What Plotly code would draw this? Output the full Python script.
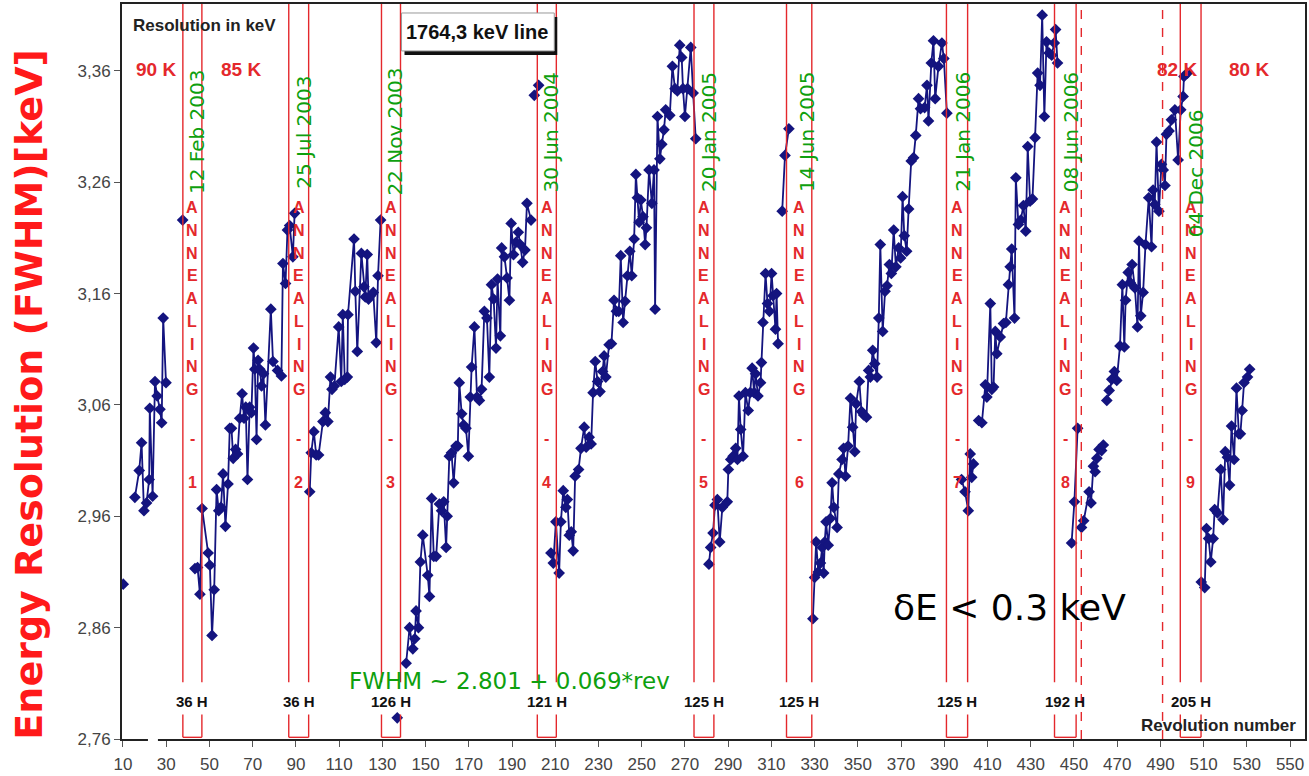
import plotly.graph_objects as go

# ---------------- data (revolution number, FWHM in keV) ----------------
seg_a1_rev = [10.1]
seg_a1_fwhm = [2.899]
seg_a2_rev = [15.5, 17.5, 18.6, 19.7, 20.9, 22.1, 22.4, 23.7, 24.8, 25.8, 27.1, 27.9, 28.6, 29.9]
seg_a2_fwhm = [2.977, 3.001, 3.026, 2.965, 2.972, 2.993, 3.057, 2.978, 3.081, 3.068, 3.056, 3.044, 3.138, 3.080]
seg_a3_rev = [37.6]
seg_a3_fwhm = [3.226]
seg_b_rev = [43.3, 44.5, 45.6, 46.6, 49.4, 50.2, 51.2, 52.2, 53.3, 54.3, 55.3, 56.3, 57.4, 58.6, 59.4,
             60.2, 61.0, 62.1, 63.0, 64.0, 65.1, 66.0, 66.8, 67.6, 68.6, 69.4, 70.4, 71.0, 71.8, 72.5,
             73.3, 74.1, 75.0, 75.9, 78.4, 79.4, 81.5, 83.3, 84.0, 85.2, 86.1, 87.1, 88.6, 89.4]
seg_b_fwhm = [2.913, 2.914, 2.890, 2.967, 2.927, 2.916, 2.853, 2.894, 2.984, 2.965, 2.968, 2.998, 2.951, 2.989, 3.039,
              3.039, 3.012, 3.020, 3.016, 3.048, 3.070, 3.048, 3.058, 2.993, 3.058, 3.053, 3.111, 3.092, 3.029, 3.100,
              3.092, 3.077, 3.088, 3.042, 3.146, 3.099, 3.091, 3.086, 3.187, 3.169, 3.217, 3.221, 3.193, 3.232]
seg_c_rev = [96.4, 97.1, 98.3, 99.4, 100.5, 102.5, 103.6, 104.8, 106.0, 106.7, 107.8, 109.8, 111.0, 111.7, 112.6,
             113.8, 114.1, 116.9, 117.5, 118.4, 120.3, 121.5, 122.1, 123.0, 123.6, 124.5, 125.8, 127.2, 128.0, 129.2]
seg_c_fwhm = [2.982, 3.017, 3.036, 3.015, 3.015, 3.045, 3.053, 3.045, 3.085, 3.074, 3.077, 3.130, 3.081, 3.141, 3.083,
              3.085, 3.141, 3.209, 3.162, 3.108, 3.196, 3.166, 3.157, 3.195, 3.155, 3.158, 3.161, 3.116, 3.176, 3.226]
seg_d0_rev = [136.9]
seg_d0_fwhm = [2.779]
seg_d_rev = [141.0, 142.6, 144.1, 145.0, 145.6, 146.7, 147.6, 148.7, 151.0, 151.8, 152.8, 153.8, 154.9, 156.4, 157.4,
             158.4, 159.5, 160.0, 161.0, 162.0, 163.0, 164.1, 164.9, 165.6, 166.7, 167.6, 168.7, 169.8, 170.7, 171.3,
             172.6, 173.8, 174.9, 175.9, 177.2, 178.4, 179.5, 180.5, 181.5, 182.6, 183.3, 184.6, 185.2, 186.5, 187.7,
             188.8, 189.6, 190.7, 191.8, 192.9, 193.8, 194.9, 196.0, 196.9, 198.8]
seg_d_fwhm = [2.828, 2.860, 2.841, 2.850, 2.875, 2.860, 2.919, 2.943, 2.907, 2.888, 2.976, 2.924, 2.924, 2.971, 2.965,
              2.973, 2.932, 2.960, 3.014, 3.017, 2.990, 3.023, 3.023, 3.080, 3.052, 3.042, 3.039, 3.014, 3.067, 3.094,
              3.130, 3.067, 3.064, 3.074, 3.144, 3.138, 3.085, 3.168, 3.155, 3.111, 3.173, 3.122, 3.201, 3.193, 3.174,
              3.154, 3.223, 3.195, 3.206, 3.215, 3.204, 3.188, 3.199, 3.241, 3.226]
seg_e0_rev = [200.3, 202.3]
seg_e0_fwhm = [3.338, 3.347]
seg_e_rev = [208.0, 209.1, 210.3, 211.8, 212.6, 213.7, 214.9, 215.6, 216.5, 217.4, 218.3, 219.2, 220.8, 221.9, 223.4,
             224.3, 225.7, 226.6, 227.5, 228.5, 229.6, 230.7, 231.9, 232.6, 233.4, 234.9, 236.0, 237.2, 238.3, 239.4,
             240.3, 241.4, 242.3, 243.4, 244.5, 245.4, 246.5, 247.3, 248.0, 248.8, 249.6, 250.6, 251.6, 252.2, 253.4,
             254.7, 255.7, 256.2, 257.3, 258.4, 259.3, 260.3, 261.1, 263.0, 264.2, 265.4, 266.5, 267.6, 268.5, 269.1,
             270.0, 271.2, 272.7, 273.8, 275.0]
seg_e_fwhm = [2.927, 2.918, 2.955, 2.909, 2.955, 2.983, 2.968, 2.975, 2.943, 2.946, 2.929, 2.996, 3.002, 3.021, 3.040,
              3.022, 3.031, 3.025, 3.071, 3.099, 3.081, 3.072, 3.090, 3.104, 3.085, 3.114, 3.115, 3.154, 3.144, 3.144,
              3.194, 3.134, 3.153, 3.176, 3.198, 3.176, 3.209, 3.267, 3.246, 3.224, 3.244, 3.229, 3.204, 3.219, 3.271,
              3.241, 3.271, 3.146, 3.319, 3.281, 3.294, 3.307, 3.325, 3.320, 3.364, 3.344, 3.342, 3.383, 3.372, 3.344,
              3.319, 3.344, 3.381, 3.340, 3.299]
seg_f_rev = [281.1, 281.9, 283.0, 283.9, 285.0, 286.1, 287.3, 289.6, 290.1, 291.2, 292.3, 293.5, 294.3, 295.0, 295.8,
             296.9, 298.0, 299.3, 300.2, 301.1, 302.0, 302.7, 303.8, 305.0, 305.4, 306.1, 307.3, 308.2, 309.1, 310.1,
             310.7, 311.9, 312.4, 313.1]
seg_f_fwhm = [2.917, 2.932, 2.945, 2.970, 2.975, 2.937, 2.968, 2.973, 3.002, 3.011, 3.014, 3.021, 3.011, 3.068, 3.038,
              3.014, 3.071, 3.055, 3.071, 3.093, 3.071, 3.088, 3.068, 3.080, 3.098, 3.134, 3.178, 3.151, 3.144, 3.178,
              3.158, 3.128, 3.160, 3.115]
seg_f2_rev = [315.0, 316.3, 318.1]
seg_f2_fwhm = [3.234, 3.284, 3.308]
seg_g_rev = [329.2, 330.0, 330.7, 331.7, 332.7, 333.5, 334.2, 334.7, 335.3, 336.3, 337.3, 338.1, 338.9, 340.4, 341.2,
             342.7, 343.4, 344.3, 345.5, 346.6, 347.6, 348.6, 349.2, 350.7, 351.7, 352.7, 354.0, 355.0, 355.8, 356.9,
             357.8, 358.9, 359.7, 360.4, 361.5, 362.6, 363.5, 364.6, 365.5, 366.6, 367.6, 368.9, 369.8, 370.7, 371.5,
             372.6, 373.5, 374.7, 375.8, 376.8, 378.1, 379.0, 380.9, 382.0, 382.7, 384.0, 385.0, 385.8, 387.3, 388.9,
             389.8, 391.2]
seg_g_fwhm = [2.868, 2.905, 2.937, 2.910, 2.918, 2.932, 2.909, 2.937, 2.955, 2.934, 2.958, 2.990, 2.968, 2.950, 2.998,
              3.011, 3.021, 2.996, 3.023, 3.066, 3.040, 3.018, 3.061, 3.081, 3.054, 3.051, 3.049, 3.091, 3.085, 3.109,
              3.097, 3.085, 3.138, 3.204, 3.126, 3.162, 3.167, 3.186, 3.178, 3.217, 3.184, 3.201, 3.192, 3.247, 3.212,
              3.198, 3.236, 3.279, 3.282, 3.302, 3.335, 3.326, 3.327, 3.347, 3.315, 3.367, 3.387, 3.335, 3.364, 3.385,
              3.371, 3.322]
seg_h0_rev = [398.0, 399.6, 401.1, 402.0, 402.7, 403.5]
seg_h0_fwhm = [2.993, 2.982, 2.965, 3.016, 2.995, 3.007]
seg_h_rev = [405.9, 407.4, 409.0, 409.7, 411.3, 412.0, 412.8, 413.6, 414.3, 415.9, 417.4, 418.5, 419.7, 420.5, 421.2,
             422.5, 423.1, 424.3, 425.4, 426.6, 427.7, 428.6, 429.7, 430.8, 432.0, 433.2, 434.3, 435.3, 436.3, 437.3,
             438.5, 439.7, 440.9, 441.5, 442.4]
seg_h_fwhm = [3.046, 3.044, 3.078, 3.067, 3.151, 3.074, 3.076, 3.126, 3.106, 3.121, 3.133, 3.134, 3.168, 3.184, 3.200,
              3.138, 3.264, 3.222, 3.226, 3.239, 3.216, 3.292, 3.243, 3.245, 3.300, 3.358, 3.347, 3.410, 3.319, 3.386,
              3.376, 3.374, 3.385, 3.397, 3.367]
seg_i0_rev = [448.9, 450.2, 451.7]
seg_i0_fwhm = [2.936, 2.973, 3.039]
seg_i_rev = [453.5, 454.5, 457.0, 457.9, 459.0, 459.8, 460.6, 461.6, 462.8, 463.6]
seg_i_fwhm = [2.950, 2.956, 2.982, 2.972, 3.005, 3.000, 3.012, 3.020, 3.019, 3.024]
seg_j_rev = [465.2, 466.3, 467.5, 468.7, 469.8, 471.3, 472.4, 473.3, 473.9, 475.1, 476.0, 476.9, 478.2, 479.4, 480.1,
             480.9, 482.0, 483.1, 484.6, 485.9, 486.6, 487.4, 488.2, 489.3, 490.5, 491.3, 492.1, 492.8, 494.0, 495.1,
             496.7, 498.2, 499.4, 500.5, 500.9, 502.5]
seg_j_fwhm = [3.064, 3.073, 3.083, 3.090, 3.082, 3.113, 3.168, 3.112, 3.154, 3.179, 3.170, 3.186, 3.165, 3.130, 3.207,
              3.140, 3.161, 3.204, 3.246, 3.202, 3.253, 3.240, 3.296, 3.234, 3.276, 3.271, 3.257, 3.303, 3.306, 3.316,
              3.325, 3.280, 3.325, 3.337, 3.355, 3.358]
seg_k_rev = [508.9, 510.5, 511.3, 512.3, 513.3, 514.4, 515.1, 516.4, 517.9, 519.0, 520.0, 521.0, 522.0, 522.9, 524.1,
             525.2, 526.3, 527.0, 527.8, 528.7, 530.3, 531.3]
seg_k_fwhm = [2.901, 2.896, 2.949, 2.940, 2.919, 2.940, 2.966, 2.963, 3.002, 2.957, 3.018, 3.013, 2.988, 3.041, 3.011,
              3.075, 3.034, 3.034, 3.055, 3.080, 3.085, 3.092]

segments = [
    (seg_a1_rev, seg_a1_fwhm), (seg_a2_rev, seg_a2_fwhm), (seg_a3_rev, seg_a3_fwhm),
    (seg_b_rev, seg_b_fwhm), (seg_c_rev, seg_c_fwhm), (seg_d0_rev, seg_d0_fwhm),
    (seg_d_rev, seg_d_fwhm), (seg_e0_rev, seg_e0_fwhm), (seg_e_rev, seg_e_fwhm),
    (seg_f_rev, seg_f_fwhm), (seg_f2_rev, seg_f2_fwhm), (seg_g_rev, seg_g_fwhm),
    (seg_h0_rev, seg_h0_fwhm), (seg_h_rev, seg_h_fwhm), (seg_i0_rev, seg_i0_fwhm),
    (seg_i_rev, seg_i_fwhm), (seg_j_rev, seg_j_fwhm), (seg_k_rev, seg_k_fwhm),
]

# annealing periods (start, end revolution), durations and dates
anneal_start = [37.7, 86.7, 129.6, 201.7, 274.2, 317.0, 391.0, 441.0, 499.2]
anneal_end = [46.5, 95.9, 138.4, 210.5, 283.4, 328.7, 400.8, 451.0, 508.8]
anneal_hours = ["36 H", "36 H", "126 H", "121 H", "125 H", "125 H", "125 H", "192 H", "205 H"]
anneal_dates = ["12 Feb 2003", "25 Jul 2003", "22 Nov 2003", "30 Jun 2004", "20 Jan 2005",
                "14 Jun 2005", "21 Jan 2006", "08 Jun 2006", "04 Dec 2006"]
dashed_revs = [453.4, 491.0]
temp_labels = ["90 K", "85 K", "82 K", "80 K"]
temp_revs = [25.2, 64.5, 497.8, 531.1]

y_tickvals = [2.76, 2.86, 2.96, 3.06, 3.16, 3.26, 3.36]
y_ticktext = ["2,76", "2,86", "2,96", "3,06", "3,16", "3,26", "3,36"]
x_tickvals = list(range(10, 551, 20))

# ---------------- figure ----------------
XMIN, XMAX = 9.54, 556.9
YMIN, YMAX = 2.76, 3.42
NAVY = "#14147f"
RED = "#e4282c"
GREEN = "#0ea00e"

xs, ys = [], []
for r, f in segments:
    xs += list(r) + [None]
    ys += list(f) + [None]

fig = go.Figure()
fig.add_trace(go.Scatter(
    x=xs, y=ys, mode="lines+markers", connectgaps=False, showlegend=False,
    line=dict(color=NAVY, width=1.8),
    marker=dict(symbol="diamond", size=9, color=NAVY),
))

shapes = []
annotations = []

y_gap_lo, y_gap_hi, y_bottom = 2.782, 2.811, 2.7615
for i, (x0, x1, hrs, date) in enumerate(zip(anneal_start, anneal_end, anneal_hours, anneal_dates)):
    for xv in (x0, x1):
        shapes.append(dict(type="line", xref="x", yref="y", x0=xv, x1=xv, y0=y_bottom, y1=y_gap_lo,
                           line=dict(color=RED, width=1.4), layer="above"))
        shapes.append(dict(type="line", xref="x", yref="y", x0=xv, x1=xv, y0=y_gap_hi, y1=YMAX,
                           line=dict(color=RED, width=1.4), layer="above"))
    shapes.append(dict(type="line", xref="x", yref="y", x0=x0, x1=x1, y0=y_bottom, y1=y_bottom,
                       line=dict(color=RED, width=1.4), layer="above"))
    xc = (x0 + x1) / 2
    annotations.append(dict(x=xc, y=2.794, text="<b>%s</b>" % hrs, showarrow=False,
                            font=dict(family="Liberation Sans, Arial", size=15, color="#111"),
                            xanchor="center", yanchor="middle"))
    for k, ch in enumerate("ANNEALING"):
        annotations.append(dict(x=xc, y=3.237 - 0.0204 * k, text="<b>%s</b>" % ch, showarrow=False,
                                font=dict(family="Liberation Sans, Arial", size=16, color=RED),
                                xanchor="center", yanchor="middle"))
    annotations.append(dict(x=xc, y=3.030, text="<b>-</b>", showarrow=False,
                            font=dict(family="Liberation Sans, Arial", size=16, color=RED)))
    annotations.append(dict(x=xc, y=2.990, text="<b>%d</b>" % (i + 1), showarrow=False,
                            font=dict(family="Liberation Sans, Arial", size=16, color=RED)))
    ydate = 3.268 if date == "04 Dec 2006" else 3.305
    annotations.append(dict(x=x1 - 2.3, y=ydate, text=date, textangle=-90, showarrow=False,
                            font=dict(family="DejaVu Sans", size=20, color=GREEN),
                            xanchor="center", yanchor="middle"))

for xv in dashed_revs:
    shapes.append(dict(type="line", xref="x", yref="y", x0=xv, x1=xv, y0=YMIN, y1=YMAX,
                       line=dict(color=RED, width=1.4, dash="dash"), layer="above"))

for t, xv in zip(temp_labels, temp_revs):
    annotations.append(dict(x=xv, y=3.361, text="<b>%s</b>" % t, showarrow=False,
                            font=dict(family="Liberation Sans, Arial", size=19, color=RED)))


def px_x(px):
    return (px - 122) / 1185.0


def px_y(py):
    return (740 - py) / 736.0


# "1764,3 keV line" label box with shadow
shapes.append(dict(type="rect", xref="paper", yref="paper", x0=px_x(405), x1=px_x(558),
                   y0=px_y(55), y1=px_y(17), fillcolor="#111", line=dict(width=0), layer="above"))
shapes.append(dict(type="rect", xref="paper", yref="paper", x0=px_x(402), x1=px_x(555),
                   y0=px_y(51), y1=px_y(13), fillcolor="white", line=dict(color="#999", width=1), layer="above"))
annotations.append(dict(xref="paper", yref="paper", x=px_x(478), y=px_y(32), text="<b>1764,3 keV line</b>",
                        showarrow=False, xanchor="center", yanchor="middle",
                        font=dict(family="Liberation Sans, Arial", size=20, color="#111")))

# break in the bottom axis line
shapes.append(dict(type="rect", xref="paper", yref="paper", x0=px_x(148), x1=px_x(158),
                   y0=px_y(745), y1=px_y(737), fillcolor="white", line=dict(width=0), layer="above"))

annotations.append(dict(x=13.7, y=3.401, text="<b>Resolution in keV</b>", showarrow=False, xanchor="left",
                        yanchor="middle", font=dict(family="Liberation Sans, Arial", size=17, color="#222")))
annotations.append(dict(x=553.7, y=2.772, text="<b>Revolution number</b>", showarrow=False, xanchor="right",
                        yanchor="middle", font=dict(family="Liberation Sans, Arial", size=17, color="#222")))
annotations.append(dict(x=188.8, y=2.812, text="FWHM ~ 2.801 + 0.069*rev", showarrow=False,
                        xanchor="center", yanchor="middle",
                        font=dict(family="DejaVu Sans", size=23, color=GREEN)))
annotations.append(dict(x=420.2, y=2.878, text="δE &lt; 0.3 keV", showarrow=False,
                        xanchor="center", yanchor="middle",
                        font=dict(family="DejaVu Sans", size=36, color="black")))
annotations.append(dict(xref="paper", yref="paper", x=px_x(29), y=px_y(395),
                        text="<b>Energy Resolution (FWHM)[keV]</b>", textangle=-90, showarrow=False,
                        xanchor="center", yanchor="middle",
                        font=dict(family="DejaVu Sans", size=38, color="#ff1a1a")))

fig.update_layout(
    width=1309, height=776,
    margin=dict(l=122, r=2, t=4, b=36),
    paper_bgcolor="white", plot_bgcolor="white",
    shapes=shapes, annotations=annotations,
    showlegend=False,
    xaxis=dict(range=[XMIN, XMAX], tickvals=x_tickvals, ticks="outside", ticklen=6, tickwidth=1,
               tickcolor="#555", showline=True, linecolor="#222", linewidth=2, mirror=True,
               showgrid=False, zeroline=False, ticklabelstandoff=3,
               tickfont=dict(family="Liberation Sans, Arial", size=17, color="#444")),
    yaxis=dict(range=[YMIN, YMAX], tickvals=y_tickvals, ticktext=y_ticktext, ticks="outside", ticklen=6,
               tickwidth=1, tickcolor="#555", showline=True, linecolor="#222", linewidth=2, mirror=True,
               showgrid=False, zeroline=False,
               tickfont=dict(family="Liberation Sans, Arial", size=17, color="#444")),
)

fig.write_html("out.html")
